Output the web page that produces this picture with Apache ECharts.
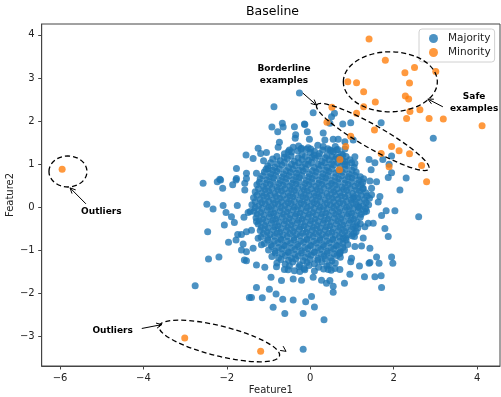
<!DOCTYPE html>
<html>
<head>
<meta charset="utf-8">
<script src="https://cdn.jsdelivr.net/npm/echarts@6/dist/echarts.min.js"></script>
<style>
  html, body { margin: 0; padding: 0; background: #fff; }
  #chart { width: 501px; height: 397px; }
</style>
</head>
<body>
<div id="chart"></div>
<script>
// tick labels
const xTicks = [-6, -4, -2, 0, 2, 4]
const yTicks = [-3, -2, -1, 0, 1, 2, 3, 4]

// majority class (outer points first, then the dense core)
const majority = [
  [-0.26,2.65],[-0.87,2.33],[-0.67,1.95],[-0.92,1.86],[-0.78,1.75],[-0.65,1.86],[-0.38,1.87],[-0.13,1.92],[-0.35,1.68],[-0.36,1.6],
  [-0.74,1.51],[-0.77,1.39],[-1.25,1.37],[-1.19,1.25],[-1.05,1.27],[-1.54,1.21],[-1.37,1.13],[-1.12,1.08],[-0.53,1.29],[-0.41,1.39],
  [-0.22,1.35],[-1.77,0.9],[-1.01,0.9],[-1.53,0.79],[-1.29,0.79],[-1.77,0.67],[-2.17,0.65],
  [-2.57,0.56],[-2.23,0.59],[-2.15,0.63],[-2.1,0.44],[-1.86,0.52],[-1.78,0.63],[-1.57,0.56],[-1.57,0.4],[-1.53,0.67],
  [-2.48,0.07],[-2.33,-0.04],[-2.09,0.04],[-2.02,-0.12],[-1.75,0.04],[-1.89,-0.22],[-1.82,-0.35],[-2.06,-0.41],[-1.59,-0.23],[-1.49,-0.12],
  [-2.46,-0.57],[-1.74,-0.63],[-1.65,-0.63],[-1.53,-0.57],[-1.78,-0.76],[-1.96,-0.81],[-1.61,-0.85],[-1.65,-0.99],[-1.53,-1.03],[-2.19,-1.15],
  [-2.44,-1.2],[-1.58,-1.22],[-1.53,-1.24],[-2.76,-1.82],[-1.46,-2.09],
  [-1.44,-0.1],[-1.29,-0.33],[-1.25,-0.72],[-1.37,-0.95],[-1.17,-0.87],[-1.41,-0.53],
  [0.07,2.19],[-0.14,1.93],[-0.07,1.75],[-0.02,1.58],[0.51,2.1],[0.58,2.18],[0.47,1.95],[0.78,1.93],[0.97,1.96],[1.7,1.96],
  [0.31,1.72],[0.55,1.58],[0.35,1.56],[0.67,1.58],[0.83,1.52],[1.03,1.56],[-0.21,1.37],[0.01,1.35],[0.09,1.21],[0.31,1.41],
  [0.47,1.33],[0.63,1.33],[0.63,1.17],[0.83,1.35],[0.78,1.21],[0.83,1.06],[1.07,1.17],[1.07,1.02],[1.41,1.11],[1.46,0.87],
  [1.55,1.03],[1.74,1.11],[1.89,1.0],[1.95,0.8],[2.3,0.68],[2.15,0.4],[2.95,1.6],[1.95,1.19],
  [1.87,0.69],[1.43,0.61],[1.59,0.59],[1.47,0.44],[1.67,0.25],[1.63,0.12],[2.03,-0.08],[1.82,-0.08],[1.71,-0.19],[2.6,-0.22],
  [1.35,-0.09],[1.39,-0.37],[1.31,-0.45],[1.51,-0.37],[1.79,-0.49],[1.87,-0.68],[1.06,-0.68],[1.27,-0.71],[1.07,-0.91],[1.23,-0.9],
  [1.43,-0.95],[0.79,-0.72],[0.99,-1.18],[1.59,-1.15],[1.43,-1.28],[1.95,-1.15],[0.71,-1.07],[1.98,-1.3],[1.65,-1.3],[1.18,-1.36],
  [0.95,-1.55],[1.3,-1.61],[1.55,-1.61],[1.7,-1.59],[1.71,-1.86],[0.82,-1.76],[0.55,-1.83],[0.47,-1.7],[0.27,-1.69],
  [-0.21,-1.69],[-0.41,-1.66],[-0.69,-1.7],[-0.94,-1.62],[-1.29,-1.86],[-0.98,-1.9],[-0.82,-2.01],[-0.66,-2.13],[-0.41,-2.15],[-1.15,-2.1],
  [-1.41,-2.09],[-0.89,-2.32],[-0.61,-2.46],[-0.17,-2.46],[-0.11,-2.19],[0.03,-2.07],[0.1,-2.31],[0.33,-2.61],[-0.17,-3.29],
  [-1.29,-1.34],[-1.09,-1.39],[-0.81,-1.38],[-0.53,-1.45],[-0.25,-1.49],[-0.13,-1.45],[0.55,-1.97],[0.39,-1.76],[0.07,-1.62],[1.41,-1.3],
  [0.97,-1.26],[0.71,-1.44],[0.59,-1.42],[0.43,-1.44],[1.27,0.44],[1.47,0.29],[1.03,0.21],[1.15,0.01],
  // core
  [-0.28,1.42],[-0.05,1.38],[0.18,1.44],[0.42,1.36],[0.6,1.41],
  [-0.62,1.24],[-0.45,1.28],[-0.2,1.22],[0.0,1.27],[0.22,1.25],[0.4,1.2],[0.55,1.29],[0.75,1.23],
  [-0.9,1.12],[-0.72,1.08],[-0.55,1.13],[-0.38,1.07],[-0.2,1.11],[-0.04,1.09],[0.12,1.14],[0.28,1.06],[0.45,1.1],[0.6,1.12],[0.78,1.07],[0.95,1.1],
  [-1.02,0.96],[-0.85,0.93],[-0.68,0.98],[-0.52,0.92],[-0.36,0.97],[-0.2,0.94],[-0.05,0.99],[0.1,0.92],[0.26,0.97],[0.41,0.93],[0.56,0.98],[0.72,0.94],[0.88,0.97],[1.05,0.93],
  [-1.1,0.82],[-0.95,0.78],[-0.8,0.83],[-0.64,0.77],[-0.48,0.81],[-0.33,0.79],[-0.17,0.84],[-0.02,0.77],[0.14,0.82],[0.3,0.78],[0.45,0.83],[0.61,0.79],[0.77,0.81],[0.93,0.77],[1.1,0.82],
  [-1.2,0.66],[-1.04,0.63],[-0.88,0.68],[-0.72,0.62],[-0.57,0.67],[-0.41,0.64],[-0.26,0.69],[-0.1,0.62],[0.05,0.67],[0.21,0.63],[0.37,0.68],[0.52,0.62],[0.68,0.66],[0.84,0.64],[1.0,0.68],[1.16,0.63],[1.28,0.66],
  [-1.28,0.52],[-1.12,0.48],[-0.96,0.53],[-0.8,0.47],[-0.65,0.51],[-0.49,0.49],[-0.34,0.54],[-0.18,0.47],[-0.03,0.52],[0.13,0.48],[0.28,0.53],[0.44,0.49],[0.6,0.51],[0.76,0.47],[0.91,0.53],[1.07,0.49],[1.22,0.52],
  [-1.32,0.36],[-1.16,0.33],[-1.0,0.38],[-0.85,0.32],[-0.69,0.37],[-0.53,0.34],[-0.38,0.39],[-0.22,0.32],[-0.07,0.37],[0.09,0.33],[0.24,0.38],[0.4,0.32],[0.56,0.36],[0.71,0.34],[0.87,0.39],[1.02,0.32],[1.18,0.37],[1.33,0.34],
  [-1.36,0.22],[-1.2,0.18],[-1.04,0.23],[-0.89,0.17],[-0.73,0.21],[-0.57,0.19],[-0.42,0.24],[-0.26,0.17],[-0.11,0.22],[0.05,0.18],[0.2,0.23],[0.36,0.17],[0.52,0.21],[0.67,0.19],[0.83,0.24],[0.98,0.17],[1.14,0.22],[1.3,0.18],[1.42,0.21],
  [-1.4,0.06],[-1.24,0.03],[-1.08,0.08],[-0.93,0.02],[-0.77,0.07],[-0.61,0.04],[-0.46,0.09],[-0.3,0.02],[-0.15,0.07],[0.01,0.03],[0.16,0.08],[0.32,0.02],[0.48,0.06],[0.63,0.04],[0.79,0.09],[0.94,0.02],[1.1,0.07],[1.26,0.03],[1.4,0.06],
  [-1.35,-0.09],[-1.19,-0.12],[-1.03,-0.07],[-0.88,-0.13],[-0.72,-0.08],[-0.56,-0.11],[-0.41,-0.06],[-0.25,-0.13],[-0.1,-0.08],[0.06,-0.12],[0.21,-0.07],[0.37,-0.13],[0.53,-0.09],[0.68,-0.11],[0.84,-0.06],[0.99,-0.13],[1.15,-0.08],[1.3,-0.11],
  [-1.3,-0.24],[-1.14,-0.27],[-0.98,-0.22],[-0.83,-0.28],[-0.67,-0.23],[-0.51,-0.26],[-0.36,-0.21],[-0.2,-0.28],[-0.05,-0.23],[0.11,-0.27],[0.26,-0.22],[0.42,-0.28],[0.58,-0.24],[0.73,-0.26],[0.89,-0.21],[1.04,-0.28],[1.2,-0.23],
  [-1.25,-0.39],[-1.09,-0.42],[-0.93,-0.37],[-0.78,-0.43],[-0.62,-0.38],[-0.46,-0.41],[-0.31,-0.36],[-0.15,-0.43],[0.0,-0.38],[0.16,-0.42],[0.31,-0.37],[0.47,-0.43],[0.63,-0.39],[0.78,-0.41],[0.94,-0.36],[1.09,-0.43],[1.2,-0.38],
  [-1.2,-0.54],[-1.04,-0.57],[-0.88,-0.52],[-0.73,-0.58],[-0.57,-0.53],[-0.41,-0.56],[-0.26,-0.51],[-0.1,-0.58],[0.05,-0.53],[0.21,-0.57],[0.36,-0.52],[0.52,-0.58],[0.68,-0.54],[0.83,-0.56],[0.99,-0.51],[1.1,-0.57],
  [-1.18,-0.69],[-1.02,-0.72],[-0.86,-0.67],[-0.71,-0.73],[-0.55,-0.68],[-0.39,-0.71],[-0.24,-0.66],[-0.08,-0.73],[0.07,-0.68],[0.23,-0.72],[0.38,-0.67],[0.54,-0.73],[0.7,-0.69],[0.85,-0.71],[1.0,-0.66],
  [-1.1,-0.84],[-0.94,-0.87],[-0.78,-0.82],[-0.63,-0.88],[-0.47,-0.83],[-0.31,-0.86],[-0.16,-0.81],[0.0,-0.88],[0.15,-0.83],[0.31,-0.87],[0.46,-0.82],[0.62,-0.88],[0.78,-0.84],[0.9,-0.86],
  [-1.0,-0.99],[-0.84,-1.02],[-0.68,-0.97],[-0.53,-1.03],[-0.37,-0.98],[-0.21,-1.01],[-0.06,-0.96],[0.1,-1.03],[0.25,-0.98],[0.41,-1.02],[0.56,-0.97],[0.72,-1.03],[0.82,-0.99],
  [-0.92,-1.14],[-0.76,-1.17],[-0.6,-1.12],[-0.45,-1.18],[-0.29,-1.13],[-0.13,-1.16],[0.02,-1.11],[0.18,-1.18],[0.33,-1.13],[0.49,-1.17],[0.64,-1.12],[0.72,-1.16],
  [-0.8,-1.29],[-0.6,-1.32],[-0.42,-1.27],[-0.25,-1.33],[-0.08,-1.28],[0.1,-1.31],[0.28,-1.26],[0.45,-1.33],[0.6,-1.29],
  [-0.62,-1.44],[-0.38,-1.47],[-0.15,-1.42],[0.1,-1.48],[0.32,-1.43],[0.5,-1.46],
  // core, in-between rows
  [-0.5,1.33],[-0.3,1.31],[-0.1,1.34],[0.1,1.3],[0.3,1.33],[0.5,1.31],[0.66,1.34],
  [-0.8,1.18],[-0.62,1.16],[-0.46,1.19],[-0.29,1.15],[-0.12,1.18],[0.04,1.16],[0.2,1.19],[0.36,1.15],[0.52,1.18],[0.69,1.16],[0.86,1.18],
  [-0.95,1.03],[-0.79,1.01],[-0.62,1.04],[-0.45,1.0],[-0.28,1.03],[-0.12,1.01],[0.03,1.04],[0.19,1.0],[0.35,1.03],[0.51,1.01],[0.66,1.04],[0.83,1.0],[0.99,1.03],
  [-1.06,0.88],[-0.9,0.86],[-0.74,0.89],[-0.58,0.85],[-0.42,0.88],[-0.27,0.86],[-0.11,0.89],[0.05,0.85],[0.21,0.88],[0.37,0.86],[0.52,0.89],[0.68,0.85],[0.84,0.88],[1.0,0.86],
  [-1.14,0.73],[-0.98,0.71],[-0.83,0.74],[-0.67,0.7],[-0.51,0.73],[-0.35,0.71],[-0.2,0.74],[-0.04,0.7],[0.12,0.73],[0.28,0.71],[0.43,0.74],[0.59,0.7],[0.75,0.73],[0.91,0.71],[1.07,0.74],[1.2,0.71],
  [-1.22,0.58],[-1.06,0.56],[-0.9,0.59],[-0.75,0.55],[-0.59,0.58],[-0.43,0.56],[-0.27,0.59],[-0.12,0.55],[0.04,0.58],[0.2,0.56],[0.36,0.59],[0.51,0.55],[0.67,0.58],[0.83,0.56],[0.99,0.59],[1.14,0.55],[1.26,0.58],
  [-1.24,0.43],[-1.08,0.41],[-0.92,0.44],[-0.77,0.4],[-0.61,0.43],[-0.45,0.41],[-0.3,0.44],[-0.14,0.4],[0.02,0.43],[0.17,0.41],[0.33,0.44],[0.49,0.4],[0.64,0.43],[0.8,0.41],[0.96,0.44],[1.11,0.4],[1.26,0.43],
  [-1.28,0.28],[-1.12,0.26],[-0.96,0.29],[-0.81,0.25],[-0.65,0.28],[-0.49,0.26],[-0.34,0.29],[-0.18,0.25],[-0.03,0.28],[0.13,0.26],[0.28,0.29],[0.44,0.25],[0.6,0.28],[0.75,0.26],[0.91,0.29],[1.06,0.25],[1.22,0.28],[1.36,0.26],
  [-1.32,0.13],[-1.16,0.11],[-1.0,0.14],[-0.85,0.1],[-0.69,0.13],[-0.53,0.11],[-0.38,0.14],[-0.22,0.1],[-0.07,0.13],[0.09,0.11],[0.24,0.14],[0.4,0.1],[0.56,0.13],[0.71,0.11],[0.87,0.14],[1.02,0.1],[1.18,0.13],[1.34,0.11],
  [-1.32,-0.01],[-1.16,-0.03],[-1.0,0.0],[-0.85,-0.04],[-0.69,-0.01],[-0.53,-0.03],[-0.38,0.0],[-0.22,-0.04],[-0.07,-0.01],[0.09,-0.03],[0.24,0.0],[0.4,-0.04],[0.56,-0.01],[0.71,-0.03],[0.87,0.0],[1.02,-0.04],[1.18,-0.01],[1.33,-0.03],
  [-1.27,-0.16],[-1.11,-0.18],[-0.95,-0.15],[-0.8,-0.19],[-0.64,-0.16],[-0.48,-0.18],[-0.33,-0.15],[-0.17,-0.19],[-0.02,-0.16],[0.14,-0.18],[0.29,-0.15],[0.45,-0.19],[0.61,-0.16],[0.76,-0.18],[0.92,-0.15],[1.07,-0.19],[1.22,-0.16],
  [-1.22,-0.31],[-1.06,-0.33],[-0.9,-0.3],[-0.75,-0.34],[-0.59,-0.31],[-0.43,-0.33],[-0.28,-0.3],[-0.12,-0.34],[0.03,-0.31],[0.19,-0.33],[0.34,-0.3],[0.5,-0.34],[0.66,-0.31],[0.81,-0.33],[0.97,-0.3],[1.12,-0.34],
  [-1.17,-0.46],[-1.01,-0.48],[-0.85,-0.45],[-0.7,-0.49],[-0.54,-0.46],[-0.38,-0.48],[-0.23,-0.45],[-0.07,-0.49],[0.08,-0.46],[0.24,-0.48],[0.39,-0.45],[0.55,-0.49],[0.71,-0.46],[0.86,-0.48],[1.02,-0.45],[1.14,-0.48],
  [-1.12,-0.61],[-0.96,-0.63],[-0.8,-0.6],[-0.65,-0.64],[-0.49,-0.61],[-0.33,-0.63],[-0.18,-0.6],[-0.02,-0.64],[0.13,-0.61],[0.29,-0.63],[0.44,-0.6],[0.6,-0.64],[0.76,-0.61],[0.91,-0.63],[1.05,-0.6],
  [-1.02,-0.76],[-0.86,-0.78],[-0.7,-0.75],[-0.55,-0.79],[-0.39,-0.76],[-0.23,-0.78],[-0.08,-0.75],[0.08,-0.79],[0.23,-0.76],[0.39,-0.78],[0.54,-0.75],[0.7,-0.79],[0.86,-0.76],
  [-0.92,-0.91],[-0.76,-0.93],[-0.6,-0.9],[-0.45,-0.94],[-0.29,-0.91],[-0.13,-0.93],[0.02,-0.9],[0.18,-0.94],[0.33,-0.91],[0.49,-0.93],[0.64,-0.9],[0.78,-0.93],
  [-0.84,-1.06],[-0.68,-1.08],[-0.52,-1.05],[-0.37,-1.09],[-0.21,-1.06],[-0.05,-1.08],[0.1,-1.05],[0.26,-1.09],[0.41,-1.06],[0.57,-1.08],[0.7,-1.05],
  [-0.7,-1.21],[-0.52,-1.23],[-0.35,-1.2],[-0.17,-1.24],[0.0,-1.21],[0.18,-1.23],[0.36,-1.2],[0.52,-1.24],
  [-0.5,-1.36],[-0.27,-1.38],[-0.03,-1.35],[0.2,-1.39],[0.4,-1.36]
]

// minority class
const minority = [
  [1.41,3.9],[1.8,3.41],[2.5,3.24],[2.27,3.12],[3.01,3.15],[0.9,2.91],[1.11,2.89],[2.38,2.88],[1.28,2.68],[2.28,2.58],
  [2.36,2.51],[1.56,2.44],[1.28,2.33],[0.52,2.32],[1.11,2.18],[2.39,2.22],[2.63,2.26],[2.85,2.06],[3.19,2.05],[4.12,1.89],
  [2.31,2.06],[0.4,1.97],[1.54,1.79],[0.97,1.65],[0.85,1.41],[1.95,1.41],[2.13,1.31],[1.7,1.25],[2.38,1.24],[0.71,1.11],
  [1.89,0.94],[2.67,0.97],[0.7,0.87],[2.79,0.59],[-5.95,0.88],[-3.01,-3.03],[-1.19,-3.34]
]

// annotations in data units: [cx, cy, rx px, ry px, tilt deg clockwise]
const ellipses = [
  [-5.81, 0.83, 19, 15.5, 0],
  [-2.18, -3.10, 62, 15, 13.9],
  [1.92, 2.91, 47, 30, 0],
  [1.50, 1.63, 64.6, 11.5, 29.7]
]
const arrows = [
  [[-5.38, 0.08], [-5.76, 0.45]],
  [[-4.04, -2.81], [-3.56, -2.72]],
  [[3.18, 2.33], [2.82, 2.51]],
  [[-0.18, 2.65], [0.15, 2.37]]
]
const labels = [
  ['Outliers', -5.01, -0.11],
  ['Outliers', -4.74, -2.87],
  ['Borderline\nexamples', -0.63, 3.07],
  ['Safe\nexamples', 3.93, 2.43]
]

const font = 'DejaVu Sans'
const minus = v => String(v).replace('-', '\u2212')
const chart = echarts.init(document.getElementById('chart'))

const option = {
  animation: false,
  title: {
    text: 'Baseline',
    left: 246,
    top: 5,
    padding: 0,
    textStyle: { fontFamily: font, fontSize: 12.5, fontWeight: 'normal', color: '#000' }
  },
  legend: {
    orient: 'vertical',
    left: 419,
    top: 29,
    padding: [4, 4, 4, 10],
    itemGap: 3,
    itemWidth: 9,
    itemHeight: 9,
    icon: 'circle',
    backgroundColor: 'rgba(255,255,255,0.8)',
    borderColor: '#d0d0d0',
    borderWidth: 1,
    borderRadius: 3,
    textStyle: { fontFamily: font, fontSize: 10.5, color: '#222', padding: [0, 0, 0, 5] },
    data: ['Majority', 'Minority']
  },
  grid: {
    left: 41.7,
    right: 1,
    top: 24,
    bottom: 31,
    outerBoundsMode: 'none',
    show: true,
    borderColor: '#444',
    borderWidth: 1
  },
  xAxis: {
    type: 'value',
    min: -6.44,
    max: 4.55,
    name: 'Feature1',
    nameLocation: 'middle',
    nameGap: 19,
    nameMoveOverlap: false,
    nameTextStyle: { fontFamily: font, fontSize: 10, color: '#222' },
    axisLine: { show: true, onZero: false, lineStyle: { color: '#444', width: 1 } },
    axisTick: { show: true, length: 3.5, customValues: xTicks, lineStyle: { color: '#444' } },
    axisLabel: { customValues: xTicks, margin: 7, formatter: minus, fontFamily: font, fontSize: 10, color: '#222' },
    splitLine: { show: false }
  },
  yAxis: {
    type: 'value',
    min: -3.68,
    max: 4.25,
    name: 'Feature2',
    nameLocation: 'middle',
    nameGap: 26,
    nameMoveOverlap: false,
    nameTextStyle: { fontFamily: font, fontSize: 10, color: '#222' },
    axisLine: { show: true, onZero: false, lineStyle: { color: '#444', width: 1 } },
    axisTick: { show: true, length: 3.5, customValues: yTicks, lineStyle: { color: '#444' } },
    axisLabel: { customValues: yTicks, margin: 7, formatter: minus, fontFamily: font, fontSize: 10, color: '#222' },
    splitLine: { show: false }
  },
  series: [
    {
      name: 'Majority',
      type: 'scatter',
      symbolSize: 7,
      data: majority,
      itemStyle: { color: '#1f77b4', opacity: 0.8 },
      emphasis: { disabled: true }
    },
    {
      name: 'Minority',
      type: 'scatter',
      symbolSize: 7,
      data: minority,
      itemStyle: { color: '#ff7f0e', opacity: 0.8 },
      emphasis: { disabled: true }
    }
  ]
}
chart.setOption(option)

// dashed ellipses, arrows and notes, placed through the grid
const toPx = p => chart.convertToPixel({ gridIndex: 0 }, p)
const graphics = []
ellipses.forEach(([cx, cy, rx, ry, tilt]) => {
  const [x, y] = toPx([cx, cy])
  graphics.push({
    type: 'ellipse',
    x, y,
    rotation: -tilt * Math.PI / 180,
    shape: { cx: 0, cy: 0, rx, ry },
    style: { fill: null, stroke: '#000', lineWidth: 1.3, lineDash: [5, 3] },
    z: 10
  })
})
const head = (x2, y2, a) => {
  const L = 6, w = 0.45
  return {
    type: 'polyline',
    shape: { points: [[x2 - L * Math.cos(a - w), y2 - L * Math.sin(a - w)], [x2, y2], [x2 - L * Math.cos(a + w), y2 - L * Math.sin(a + w)]] },
    style: { fill: null, stroke: '#000', lineWidth: 1 },
    z: 10
  }
}
arrows.forEach(([p1, p2]) => {
  const [x1, y1] = toPx(p1)
  const [x2, y2] = toPx(p2)
  graphics.push({ type: 'line', shape: { x1, y1, x2, y2 }, style: { stroke: '#000', lineWidth: 1 }, z: 10 })
  graphics.push(head(x2, y2, Math.atan2(y2 - y1, x2 - x1)))
})
// arrow tip at the right end of the lower outlier ellipse
const [tx, ty] = toPx([-0.58, -3.34])
graphics.push(head(tx, ty, 0.6))
labels.forEach(([text, lx, ly]) => {
  const [x, y] = toPx([lx, ly])
  graphics.push({
    type: 'text',
    x, y,
    style: { text, fill: '#000', font: 'bold 9px "DejaVu Sans"', align: 'center', verticalAlign: 'middle', lineHeight: 12 },
    z: 10
  })
})
chart.setOption({ graphic: graphics })
</script>
</body>
</html>
